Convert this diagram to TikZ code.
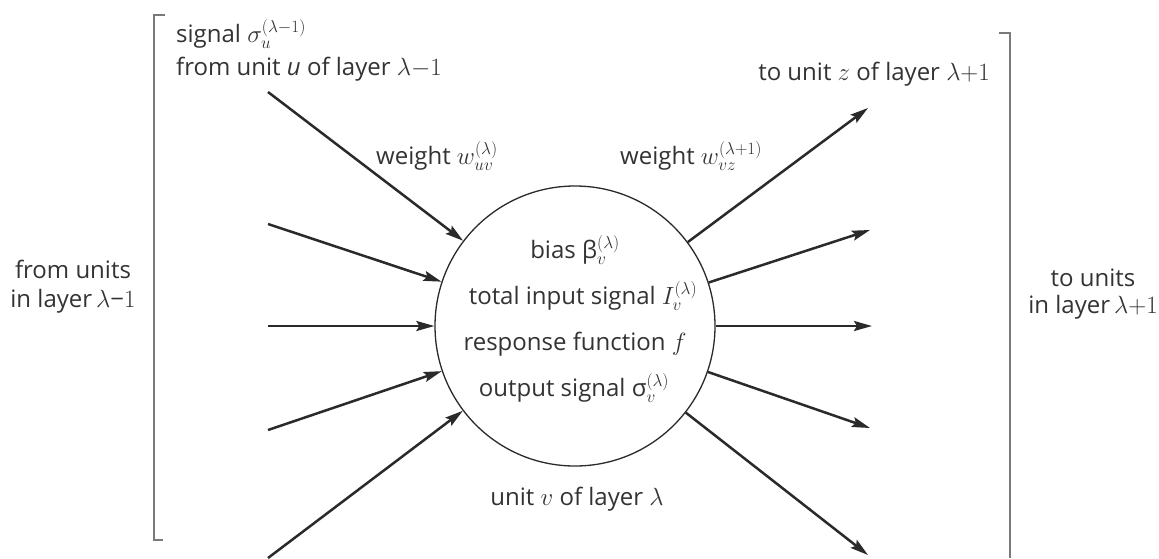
\documentclass[tikz,border=0pt]{standalone}
\usepackage{fontspec}
\setmainfont{Open Sans}
\usetikzlibrary{arrows.meta}
\definecolor{ink}{HTML}{2A2A2A}
\definecolor{txt}{HTML}{333333}
\definecolor{brk}{HTML}{7A7A7A}
\begin{document}
\begin{tikzpicture}[x=1pt,y=-1pt,
  lbl/.style={text=txt,font=\fontsize{24}{28}\selectfont,inner sep=0pt},
  conn/.style={draw=ink,line width=2.5pt,-{Stealth[length=18pt,width=10pt,inset=3pt]}},
  unitc/.style={circle,draw=ink,line width=1.3pt,minimum size=280pt,inner sep=0pt},
  bracket/.style={draw=brk,line width=1.4pt}]
\useasboundingbox (0,0) rectangle (1159,558);
\fill[white] (0,0) rectangle (1159,558);
% brackets
\draw[bracket] (165,15) -- (154,15) -- (154,540) -- (163,540);
\draw[bracket] (999,33) -- (1010,33) -- (1010,558);
% unit
\node[unitc] (v) at (575,326) {};
\node[lbl,anchor=base] (t1) at (575,258) {bias β$_v^{(\lambda)}$};
\node[lbl,anchor=base] (t2) at (583,304) {total input signal $I_v^{(\lambda)}$};
\node[lbl,anchor=base] (t3) at (575,350) {response function $f$};
\node[lbl,anchor=base] (t4) at (574,396) {output signal σ$_v^{(\lambda)}$};
\node[lbl,anchor=base] (tu) at (577,505) {unit $v$ of layer $\lambda$};
% inputs
\coordinate (l1) at (268,92);
\coordinate (l2) at (268,224);
\coordinate (l3) at (268,326);
\coordinate (l4) at (268,430);
\coordinate (l5) at (268,558);
\foreach \c in {l1,l2,l3,l4,l5} \draw[conn] (\c) -- (v);
% outputs
\coordinate (r1) at (868,108);
\coordinate (r2) at (870,230);
\coordinate (r3) at (872,326);
\coordinate (r4) at (870,428);
\coordinate (r5) at (868,555);
\foreach \c in {r1,r2,r3,r4,r5} \draw[conn] (v) -- (\c);
% labels
\node[lbl,anchor=base west] (s1) at (176,42) {signal $\sigma_u^{(\lambda-1)}$};
\node[lbl,anchor=base west] (s2) at (176,75) {from unit \textit{u} of layer $\lambda{-}1$};
\node[lbl,anchor=base west] (w1) at (376,164) {weight $w_{uv}^{(\lambda)}$};
\node[lbl,anchor=base west] (w2) at (620,164) {weight $w_{vz}^{(\lambda+1)}$};
\node[lbl,anchor=base east] (tz) at (990,80) {to unit $z$ of layer $\lambda{+}1$};
\node[lbl,anchor=base] (fl1) at (73,278) {from units};
\node[lbl,anchor=base] (fl2) at (73,307) {in layer\,$\lambda$−$1$};
\node[lbl,anchor=base] (tl1) at (1093,286) {to units};
\node[lbl,anchor=base] (tl2) at (1093,313) {in layer\,$\lambda{+}1$};
\end{tikzpicture}
\end{document}
